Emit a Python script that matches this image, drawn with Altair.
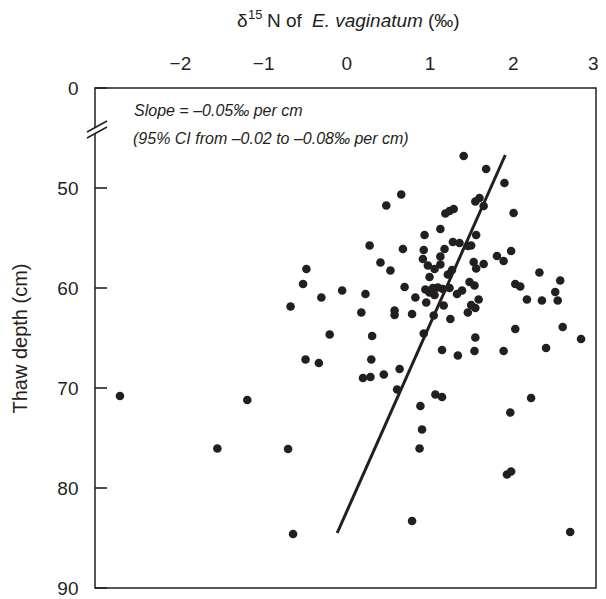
import altair as alt
import pandas as pd

# δ15N of E. vaginatum (‰) and thaw depth (cm)
d15n = [1.41, 1.68, 1.90, 0.66, 0.48, 1.55, 1.60, 1.65, 1.19, 1.24,
        1.29, 2.01, 1.13, 0.94, 1.56, 0.28, 0.68, 0.93, 1.28, 1.36,
        1.46, 1.50, 1.18, 1.98, 1.81, 1.89, 0.92, 1.13, 0.41, 0.53,
        0.98, 1.06, 1.13, 1.53, 1.56, 1.65, 1.00, 1.22, 1.27, 2.32,
        2.57, -0.05, 0.23, 0.70, 0.95, 1.00, 1.04, 1.06, 1.10, 1.16,
        1.24, 1.33, 1.39, 1.48, 1.54, 2.03, 2.09, 0.83, 0.96, 1.17,
        1.50, 1.55, 1.59, 1.46, 2.17, 2.35, 2.51, 2.54, 0.18, 0.58,
        0.58, 0.79, 1.05, 1.25, 2.03, 2.60, 2.82, -0.20, 0.31, 0.93,
        1.55, -0.48, -0.52, -0.30, -0.67, -0.49, -0.33, -2.72, -1.19, 0.30,
        1.15, 1.34, 1.54, 1.89, 2.40, 0.20, 0.29, 0.45, 0.64, 0.61,
        1.07, 1.15, 0.89, 2.22, 1.97, 0.91, 0.88, 1.93, 1.98, 0.79,
        2.69, -1.55, -0.70, -0.64]
depth = [46.8, 48.1, 49.5, 50.65, 51.75, 51.35, 51.0, 51.8, 52.55, 52.3,
         52.1, 52.5, 54.1, 54.7, 54.7, 55.75, 56.1, 56.2, 55.4, 55.5,
         55.8, 55.75, 56.1, 56.3, 56.8, 57.3, 57.1, 56.85, 57.45, 58.25,
         57.75, 58.1, 57.65, 57.4, 58.05, 57.6, 58.9, 58.65, 58.2, 58.45,
         59.25, 60.25, 60.6, 59.9, 60.15, 60.45, 60.0, 60.7, 59.95, 60.1,
         60.0, 60.6, 60.25, 59.4, 59.75, 59.6, 59.85, 60.95, 61.45, 61.75,
         61.7, 62.0, 61.15, 62.45, 61.15, 61.25, 60.4, 61.25, 62.45, 62.25,
         62.7, 62.6, 62.75, 63.1, 64.1, 63.9, 65.1, 64.65, 64.8, 64.55,
         64.95, 58.1, 59.6, 60.95, 61.85, 67.15, 67.5, 70.8, 71.2, 67.15,
         66.2, 66.75, 66.3, 66.3, 66.0, 69.0, 68.9, 68.65, 68.1, 70.15,
         70.65, 70.9, 71.8, 71.0, 72.45, 74.15, 76.05, 78.65, 78.35, 83.3,
         84.4, 76.05, 76.1, 84.6]

# fitted regression line end points
line_depth = [46.7, 84.5]
line_d15n = [1.91, -0.11]

x_ticks = [-2, -1, 0, 1, 2, 3]
y_ticks = [40, 50, 60, 70, 80, 90]   # 40 is shown as "0" (broken axis)

# axis-break slashes (depth at left end, depth at right end)
break_left = [44.4, 45.0]
break_right = [43.3, 43.9]

ink = "#231f20"
FONT = "Liberation Sans"

xscale = alt.Scale(domain=[-3.02, 3.0], nice=False, zero=False)
yscale = alt.Scale(domain=[40, 90], reverse=True, nice=False, zero=False)

pts_df = pd.DataFrame({"d": d15n, "depth": depth})
line_df = pd.DataFrame({"d": line_d15n, "depth": line_depth})
tick_df = pd.DataFrame({"depth": y_ticks})
brk_df = pd.DataFrame({"a": break_left, "b": break_right})

points = alt.Chart(pts_df).mark_circle(size=74, opacity=1, color=ink).encode(
    x=alt.X("d:Q", scale=xscale,
            axis=alt.Axis(orient="top", values=x_ticks, format="d", title="", ticks=False,
                          tickSize=0, domain=False, grid=False, labelFontSize=19,
                          labelPadding=15, labelColor=ink, labelFont=FONT,
                          labelFlush=True, labelFlushOffset=2)),
    y=alt.Y("depth:Q", scale=yscale,
            axis=alt.Axis(values=y_ticks, labelExpr="datum.value == 40 ? '0' : datum.label",
                          title="Thaw depth (cm)", ticks=False, tickSize=0, domain=False,
                          grid=False, labelFontSize=19, labelPadding=17, labelColor=ink,
                          labelFont=FONT, titleFont=FONT, titleFontSize=20,
                          titleFontWeight="normal", titleColor=ink, titleX=-75, titleY=250,
                          titleAngle=270, titleBaseline="middle", titleAlign="center")),
)

reg = alt.Chart(line_df).mark_line(color=ink, strokeWidth=3).encode(
    x=alt.X("d:Q", scale=xscale), y=alt.Y("depth:Q", scale=yscale)
)

ticks = alt.Chart(tick_df).mark_rule(color=ink, strokeWidth=1.6).encode(
    x=alt.value(0), x2=alt.value(12), y=alt.Y("depth:Q", scale=yscale)
)

gap = alt.Chart(pd.DataFrame({"a": [44.0], "b": [44.5]})).mark_rule(color="white", strokeWidth=4).encode(
    x=alt.value(0), y=alt.Y("a:Q", scale=yscale), y2="b:Q"
)

slashes = alt.Chart(brk_df).mark_rule(color=ink, strokeWidth=1.5).encode(
    x=alt.value(-8), x2=alt.value(12), y=alt.Y("a:Q", scale=yscale), y2="b:Q"
)

def txt(s, x, y, size, style="normal", align="left"):
    return alt.Chart(pd.DataFrame({"t": [s]})).mark_text(
        align=align, baseline="alphabetic", font=FONT, fontSize=size, fontStyle=style, color=ink
    ).encode(text="t:N", x=alt.value(x), y=alt.value(y))

ann1 = txt("Slope = \u20130.05\u2030 per cm", 39, 28, 16, "italic")
ann2 = txt("(95% CI from \u20130.02 to \u20130.08\u2030 per cm)", 38, 56, 16, "italic")

t_delta = txt("\u03b4", 142, -61, 19)
t_sup = txt("15", 153, -69, 13)
t_n = txt("N of", 172, -61, 19)
t_sp = txt("E. vaginatum", 217, -61, 19, "italic")
t_pm = txt("(\u2030)", 333, -61, 19)

chart = alt.layer(
    points, reg, ticks, gap, slashes, ann1, ann2, t_delta, t_sup, t_n, t_sp, t_pm
).properties(
    width=501, height=500,
    autosize=alt.AutoSizeParams(type="none"),
    padding={"left": 87, "top": 80, "right": 2, "bottom": 12},
    background="white",
).configure_view(stroke=ink, strokeWidth=1.5)

chart.save("out.html", embed_options={"renderer": "svg", "actions": False})
